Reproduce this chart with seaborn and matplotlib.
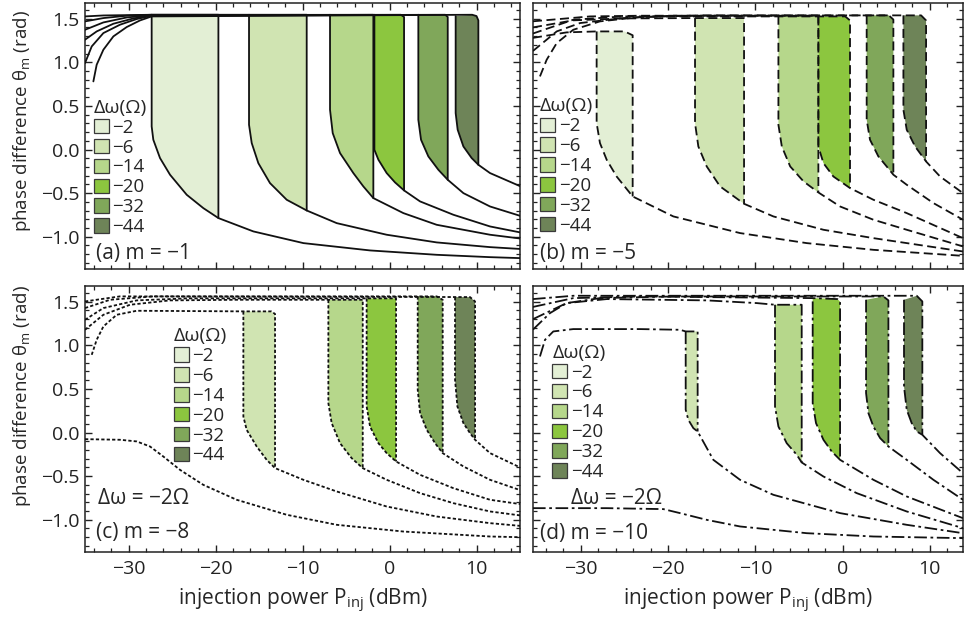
import matplotlib
matplotlib.use("Agg")
import matplotlib.pyplot as plt
from matplotlib.patches import Patch
from matplotlib.ticker import MultipleLocator
import seaborn as sns

# frequency detunings and fill colours
dw = [-2, -6, -14, -20, -32, -44]
fill_colors = ['#e3efd5', '#d0e4b2', '#b6d78b', '#8cc63f', '#80a75a', '#6e8458']

# ---- panel (a) m = -1 ----
a_on = [-27.34, -16.15, -6.84, -1.74, 3.31, 7.60]
a_off = [-19.67, -9.52, -1.86, 1.67, 6.69, 10.21]
a_lo_x = [
    [-27.34, -27.34, -27.15, -26.38, -25.23, -23.31, -21.40, -19.67, -15.65, -9.90, -2.24, 5.42, 11.55, 15.0],
    [-16.15, -16.15, -15.84, -15.08, -13.74, -11.82, -9.52, -6.07, -0.33, 5.42, 11.55, 15.0],
    [-6.84, -6.84, -6.53, -5.69, -4.16, -3.01, -1.86, 1.59, 5.42, 11.55, 15.0],
    [-1.74, -1.74, -1.28, -0.33, 0.63, 1.67, 3.51, 7.34, 11.55, 15.0],
    [3.31, 3.31, 3.62, 4.46, 5.61, 6.69, 8.49, 11.55, 15.0],
    [7.60, 7.60, 7.83, 8.49, 9.44, 10.21, 11.55, 15.0],
]
a_lo_y = [
    [1.545, 0.265, 0.112, -0.098, -0.289, -0.519, -0.672, -0.786, -0.939, -1.073, -1.157, -1.207, -1.234, -1.245],
    [1.545, 0.284, 0.074, -0.156, -0.385, -0.576, -0.699, -0.844, -0.977, -1.065, -1.119, -1.14],
    [1.545, 0.456, 0.188, -0.041, -0.270, -0.423, -0.557, -0.729, -0.863, -0.977, -1.02],
    [1.545, -0.003, -0.117, -0.270, -0.377, -0.469, -0.595, -0.748, -0.882, -0.95],
    [1.545, 0.341, 0.112, -0.079, -0.232, -0.347, -0.500, -0.653, -0.76],
    [1.53, 0.418, 0.227, 0.035, -0.098, -0.175, -0.270, -0.42],
]
a_up_x = [
    [-35.0, -32.89, -27.34, -19.67],
    [-35.0, -32.89, -30.21, -27.34, -9.52],
    [-35.0, -32.89, -30.21, -27.34, -1.86],
    [-35.0, -33.66, -31.74, -29.44, -27.34, 1.30, 1.67],
    [-35.0, -34.23, -32.89, -30.98, -29.06, -27.34, 6.40, 6.69],
    [-34.04, -33.66, -32.89, -31.74, -30.21, -28.68, -27.34, 9.50, 10.0, 10.21],
]
a_up_y = [
    [1.526, 1.537, 1.545, 1.545],
    [1.469, 1.507, 1.534, 1.545, 1.545],
    [1.373, 1.457, 1.514, 1.541, 1.545],
    [1.259, 1.354, 1.442, 1.503, 1.537, 1.545, 1.52],
    [0.991, 1.182, 1.335, 1.431, 1.496, 1.534, 1.545, 1.52],
    [0.781, 0.972, 1.144, 1.297, 1.404, 1.480, 1.526, 1.545, 1.53, 1.48],
]

# ---- panel (b) m = -5 ----
b_on = [-28.20, -16.92, -7.36, -2.78, 2.76, 6.97]
b_off = [-24.07, -11.30, -2.78, 0.85, 5.82, 9.57]
b_lo_x = [
    [-28.20, -28.20, -27.82, -27.05, -25.91, -24.07, -19.41, -11.76, -4.12, 3.53, 13.8],
    [-16.92, -16.92, -16.54, -15.58, -14.05, -11.30, -7.94, -2.20, 3.53, 13.8],
    [-7.36, -7.36, -6.97, -6.01, -4.48, -2.78, -0.29, 3.53, 7.35, 13.8],
    [-2.78, -2.78, -2.20, -1.06, 0.85, 3.53, 7.35, 13.8],
    [2.76, 2.76, 3.14, 4.10, 5.05, 5.82, 7.35, 10.41, 13.8],
    [6.97, 6.97, 7.35, 8.31, 9.57, 11.17, 13.8],
]
b_lo_y = [
    [1.354, 0.303, 0.074, -0.117, -0.309, -0.538, -0.767, -0.958, -1.073, -1.150, -1.219],
    [1.507, 0.303, 0.035, -0.194, -0.423, -0.622, -0.767, -0.920, -1.016, -1.169],
    [1.534, 0.284, 0.035, -0.194, -0.366, -0.492, -0.653, -0.805, -0.920, -1.111],
    [1.526, 0.035, -0.156, -0.309, -0.442, -0.576, -0.729, -1.016],
    [1.538, 0.341, 0.112, -0.079, -0.194, -0.289, -0.404, -0.614, -0.805],
    [1.538, 0.456, 0.227, 0.035, -0.137, -0.309, -0.500],
]
b_up_x = [
    [-35.5, -31.64, -28.20, -25.0, -24.07],
    [-35.5, -30.88, -25.15, -16.92, -11.30],
    [-35.5, -28.96, -23.23, -2.78],
    [-35.5, -30.88, -25.15, 0.3, 0.85],
    [-35.5, -32.78, -30.10, -25.15, -19.41, 5.3, 5.82],
    [-34.70, -33.93, -32.78, -30.88, -27.82, -23.23, -15.58, 9.0, 9.57],
]
b_up_y = [
    [1.28, 1.343, 1.354, 1.354, 1.31],
    [1.40, 1.481, 1.503, 1.507, 1.507],
    [1.47, 1.526, 1.534, 1.534],
    [1.33, 1.488, 1.526, 1.526, 1.48],
    [1.13, 1.354, 1.450, 1.507, 1.534, 1.538, 1.49],
    [0.838, 1.029, 1.220, 1.373, 1.469, 1.519, 1.538, 1.538, 1.48],
]

# ---- panel (c) m = -8 ----
c_on = [None, -16.80, -7.03, -2.63, 3.24, 7.53]
c_off = [None, -13.16, -3.08, 0.75, 6.11, 9.83]
c_lo_x = [
    [-35.0, -30.98, -29.06, -27.53, -26.0, -24.08, -21.40, -17.57, -11.82, -6.07, 1.59, 11.55, 15.0],
    [-16.80, -16.80, -16.42, -15.27, -14.12, -13.16, -9.90, -6.07, -0.33, 5.42, 11.55, 15.0],
    [-7.03, -7.03, -6.65, -5.69, -4.35, -3.08, -0.33, 3.51, 7.34, 11.55, 15.0],
    [-2.63, -2.63, -2.24, -1.28, -0.33, 0.75, 3.51, 7.34, 11.55, 15.0],
    [3.24, 3.24, 3.51, 4.28, 5.23, 6.11, 8.49, 11.55, 15.0],
    [7.53, 7.53, 7.80, 8.49, 9.25, 9.83, 11.55, 15.0],
]
c_lo_y = [
    [-0.076, -0.083, -0.102, -0.160, -0.275, -0.428, -0.600, -0.771, -0.943, -1.058, -1.135, -1.192, -1.20],
    [1.389, 0.184, 0.031, -0.160, -0.313, -0.408, -0.542, -0.676, -0.848, -0.963, -1.039, -1.07],
    [1.522, 0.337, 0.108, -0.122, -0.294, -0.408, -0.542, -0.695, -0.810, -0.905, -0.95],
    [1.538, 0.299, 0.069, -0.122, -0.236, -0.332, -0.485, -0.638, -0.771, -0.82],
    [1.561, 0.490, 0.222, 0.031, -0.122, -0.236, -0.389, -0.542, -0.66],
    [1.553, 0.605, 0.299, 0.108, -0.007, -0.083, -0.236, -0.40],
]
c_up_x = [
    None,
    [-34.23, -33.66, -32.89, -31.36, -29.06, -16.80, -13.6, -13.16],
    [-35.0, -32.89, -29.83, -25.23, -17.57, -3.08],
    [-35.0, -32.89, -29.06, -23.31, 0.75],
    [-35.0, -32.13, -27.15, 5.42, 6.11],
    [-35.0, -30.98, 9.25, 9.83],
]
c_up_y = [
    None,
    [0.891, 1.063, 1.216, 1.350, 1.396, 1.389, 1.389, 1.36],
    [1.178, 1.350, 1.465, 1.515, 1.522, 1.522],
    [1.293, 1.427, 1.515, 1.538, 1.538],
    [1.427, 1.522, 1.561, 1.561, 1.522],
    [1.503, 1.561, 1.553, 1.503],
]

# ---- panel (d) m = -10 ----
d_on = [None, -17.99, -7.75, -3.43, 2.69, 7.04]
d_off = [None, -16.62, -4.69, -0.29, 5.25, 9.14]
d_lo_x = [
    [-35.5, -27.05, -20.55, -18.64, -15.58, -11.76, -4.12, 3.53, 13.8],
    [-17.99, -17.99, -17.69, -17.11, -16.62, -14.82, -11.76, -7.94, -0.29, 7.35, 13.8],
    [-7.75, -7.75, -7.36, -6.41, -5.26, -4.69, -2.20, 1.62, 7.35, 13.8],
    [-3.43, -3.43, -3.05, -2.20, -1.25, -0.29, 3.53, 7.35, 13.8],
    [2.69, 2.69, 2.96, 3.53, 4.30, 5.25, 7.35, 10.41, 13.8],
    [7.04, 7.04, 7.35, 7.92, 8.50, 9.14, 11.17, 13.8],
]
d_lo_y = [
    [-0.867, -0.867, -0.878, -0.924, -1.001, -1.077, -1.154, -1.192, -1.211],
    [1.159, 0.261, 0.146, 0.050, 0.012, -0.313, -0.542, -0.714, -0.924, -1.058, -1.154],
    [1.465, 0.299, 0.069, -0.122, -0.255, -0.343, -0.504, -0.695, -0.905, -1.096],
    [1.503, 0.337, 0.108, -0.083, -0.217, -0.313, -0.542, -0.733, -0.982],
    [1.522, 0.452, 0.222, 0.069, -0.064, -0.160, -0.313, -0.542, -0.771],
    [1.522, 0.528, 0.261, 0.108, 0.012, -0.026, -0.236, -0.466],
]
d_up_x = [
    None,
    [-34.70, -34.12, -33.17, -30.88, -23.23, -18.64, -17.99, -16.62],
    [-35.5, -31.64, -27.05, -15.58, -9.85, -7.75, -4.69],
    [-35.5, -30.88, -23.23, -3.43, -0.6, -0.29],
    [-35.5, -33.55, -31.64, -27.82, -19.41, 4.68, 5.25],
    [-35.5, -30.88, 8.50, 9.14],
]
d_up_y = [
    None,
    [0.872, 1.063, 1.159, 1.186, 1.186, 1.178, 1.159, 1.159],
    [1.30, 1.484, 1.530, 1.515, 1.484, 1.465, 1.465],
    [1.44, 1.541, 1.560, 1.541, 1.530, 1.503],
    [1.18, 1.369, 1.484, 1.541, 1.560, 1.560, 1.515],
    [1.53, 1.568, 1.568, 1.503],
]

sns.set_theme(style="ticks")
plt.rcParams.update({
    "font.family": ["Open Sans", "DejaVu Sans"],
    "font.size": 13,
    "axes.linewidth": 1.1,
    "axes.edgecolor": "#222222",
    "xtick.direction": "in",
    "ytick.direction": "in",
    "xtick.top": True,
    "ytick.right": True,
    "xtick.major.size": 5,
    "ytick.major.size": 5,
    "xtick.minor.size": 3,
    "ytick.minor.size": 3,
    "xtick.major.width": 1.0,
    "ytick.major.width": 1.0,
    "xtick.minor.width": 0.9,
    "ytick.minor.width": 0.9,
    "xtick.color": "#222222",
    "ytick.color": "#222222",
    "xtick.labelsize": 14,
    "ytick.labelsize": 14,
    "xtick.major.pad": 6,
    "ytick.major.pad": 4,
})

fig = plt.figure(figsize=(9.65, 6.22), dpi=100)
ax_a = fig.add_axes([0.0881, 0.5675, 0.4508, 0.4277])
ax_b = fig.add_axes([0.5523, 0.5675, 0.4456, 0.4277])
ax_c = fig.add_axes([0.0881, 0.1125, 0.4508, 0.4277])
ax_d = fig.add_axes([0.5523, 0.1125, 0.4456, 0.4277])


def draw_panel(ax, on, off, lo_x, lo_y, up_x, up_y, ls):
    for k in range(len(dw)):
        if on[k] is not None:
            i_off = lo_x[k].index(off[k])
            top = [(x, y) for x, y in zip(up_x[k], up_y[k]) if x >= on[k]]
            px = lo_x[k][:i_off + 1] + [p[0] for p in reversed(top)]
            py = lo_y[k][:i_off + 1] + [p[1] for p in reversed(top)]
            ax.fill(px, py, color=fill_colors[k], lw=0, zorder=1)
            sns.lineplot(x=up_x[k] + [off[k]], y=up_y[k] + [lo_y[k][i_off]],
                         sort=False, estimator=None, color="#111111", lw=1.3,
                         linestyle=ls, ax=ax, zorder=3)
        sns.lineplot(x=lo_x[k], y=lo_y[k], sort=False, estimator=None,
                     color="#111111", lw=1.3, linestyle=ls, ax=ax, zorder=3)


draw_panel(ax_a, a_on, a_off, a_lo_x, a_lo_y, a_up_x, a_up_y, "-")
draw_panel(ax_b, b_on, b_off, b_lo_x, b_lo_y, b_up_x, b_up_y, (0, (5, 2.5)))
draw_panel(ax_c, c_on, c_off, c_lo_x, c_lo_y, c_up_x, c_up_y, (0, (1.8, 1.2)))
draw_panel(ax_d, d_on, d_off, d_lo_x, d_lo_y, d_up_x, d_up_y, (0, (7, 2, 1.5, 2)))

for ax in (ax_a, ax_c):
    ax.set_xlim(-35, 15)
for ax in (ax_b, ax_d):
    ax.set_xlim(-35.5, 13.8)
for ax in (ax_a, ax_b, ax_c, ax_d):
    ax.set_ylim(-1.37, 1.68)
    ax.xaxis.set_major_locator(MultipleLocator(10))
    ax.xaxis.set_minor_locator(MultipleLocator(2))
    ax.yaxis.set_major_locator(MultipleLocator(0.5))
    ax.yaxis.set_minor_locator(MultipleLocator(0.1))
    ax.tick_params(which="both", top=True, right=True)
    ax.set_xlabel("")
    ax.set_ylabel("")

ax_a.tick_params(labelbottom=False)
ax_b.tick_params(labelbottom=False, labelleft=False)
ax_d.tick_params(labelleft=False)

ylab = "phase difference θ$_\\mathregular{m}$ (rad)"
xlab = "injection power P$_\\mathregular{inj}$ (dBm)"
ax_a.set_ylabel(ylab, fontsize=13.5)
ax_c.set_ylabel(ylab, fontsize=13.5)
ax_a.yaxis.set_label_coords(-0.12, 0.555)
ax_c.yaxis.set_label_coords(-0.12, 0.585)
ax_c.set_xlabel(xlab, fontsize=15, labelpad=6)
ax_d.set_xlabel(xlab, fontsize=15, labelpad=6)

# legends
handles = [Patch(facecolor=c, edgecolor="#3a3a3a", lw=0.9, label="\u2212%d" % abs(v))
           for c, v in zip(fill_colors, dw)]
leg_pos = {ax_a: (0.020, 0.640), ax_b: (0.016, 0.645), ax_c: (0.204, 0.845), ax_d: (0.045, 0.783)}
for ax, pos in leg_pos.items():
    ax.legend(handles=handles, title="Δω(Ω)", loc="upper left", bbox_to_anchor=pos,
              frameon=False, borderpad=0, borderaxespad=0, labelspacing=0.1,
              handlelength=0.8, handleheight=0.8, handletextpad=0.2,
              fontsize=13.5, title_fontsize=14, alignment="left")

ax_a.text(0.025, 0.058, "(a) m = \u22121", transform=ax_a.transAxes, fontsize=15, va="center")
ax_b.text(0.017, 0.058, "(b) m = \u22125", transform=ax_b.transAxes, fontsize=15, va="center")
ax_c.text(0.025, 0.074, "(c) m = \u22128", transform=ax_c.transAxes, fontsize=15, va="center")
ax_d.text(0.017, 0.070, "(d) m = \u221210", transform=ax_d.transAxes, fontsize=15, va="center")
ax_c.text(0.029, 0.202, "Δω = \u22122Ω", transform=ax_c.transAxes, fontsize=15, va="center")
ax_d.text(0.088, 0.202, "Δω = \u22122Ω", transform=ax_d.transAxes, fontsize=15, va="center")

fig.savefig("out.png", dpi=100)
